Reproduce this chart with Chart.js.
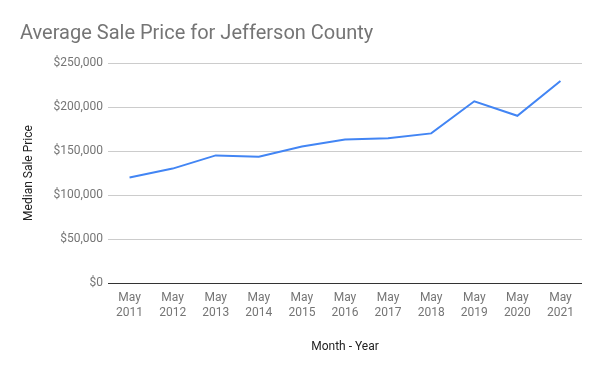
<!DOCTYPE html>
<html>
<head>
<meta charset="utf-8">
<script src="https://cdn.jsdelivr.net/npm/chart.js@4"></script>
<style>
  html, body { margin: 0; padding: 0; background: #fff; }
  #wrap { width: 600px; height: 371px; }
</style>
</head>
<body>
<div id="wrap"><canvas id="chart" width="600" height="371"></canvas></div>
<script>
const months = ['May', 'May', 'May', 'May', 'May', 'May', 'May', 'May', 'May', 'May', 'May'];
const years = ['2011', '2012', '2013', '2014', '2015', '2016', '2017', '2018', '2019', '2020', '2021'];
const salePrices = [120000, 130000, 145000, 143500, 155000, 163000, 164500, 170000, 206500, 190000, 229500];
const yTicks = [0, 50000, 100000, 150000, 200000, 250000];

const FONT = 'Roboto, "Noto Sans", sans-serif';
const fmt = (v) => '$' + v.toLocaleString('en-US');

new Chart(document.getElementById('chart'), {
  type: 'line',
  data: {
    labels: months.map((m, i) => [m, years[i]]),
    datasets: [{
      label: 'Median Sale Price',
      data: salePrices,
      borderColor: '#4285f4',
      backgroundColor: '#4285f4',
      borderWidth: 2,
      pointRadius: 0,
      tension: 0,
    }],
  },
  options: {
    responsive: false,
    animation: false,
    layout: { padding: { left: 20, right: 18, top: 0, bottom: 17 } },
    plugins: {
      legend: { display: false },
      tooltip: { enabled: false },
      title: {
        display: true,
        text: 'Average Sale Price for Jefferson County',
        align: 'start',
        color: '#757575',
        font: { family: FONT, size: 20, weight: 'normal' },
        padding: { top: 22, bottom: 17 },
      },
    },
    scales: {
      x: {
        offset: true,
        grid: { display: false, drawTicks: false },
        border: { display: false },
        ticks: {
          color: '#757575',
          font: { family: FONT, size: 12 },
          padding: 8,
          maxRotation: 0,
          autoSkip: false,
        },
        title: {
          display: true,
          text: 'Month - Year',
          color: '#222',
          font: { family: FONT, size: 12 },
          padding: { top: 20, bottom: 0 },
        },
        afterFit: (s) => { s.height = 71; },
      },
      y: {
        min: 0,
        max: 250000,
        afterBuildTicks: (s) => { s.ticks = yTicks.map((v) => ({ value: v })); },
        grid: {
          drawTicks: false,
          color: (c) => (c.tick && c.tick.value === 0 ? '#333' : '#ccc'),
          lineWidth: 1,
        },
        border: { display: false },
        ticks: {
          color: '#757575',
          font: { family: FONT, size: 12 },
          padding: 5,
          callback: (v) => fmt(v),
        },
        title: {
          display: true,
          text: 'Median Sale Price',
          color: '#222',
          font: { family: FONT, size: 12 },
          padding: { top: 2, bottom: 0 },
        },
        afterFit: (s) => { s.width = 88; },
      },
    },
  },
});
</script>
</body>
</html>
